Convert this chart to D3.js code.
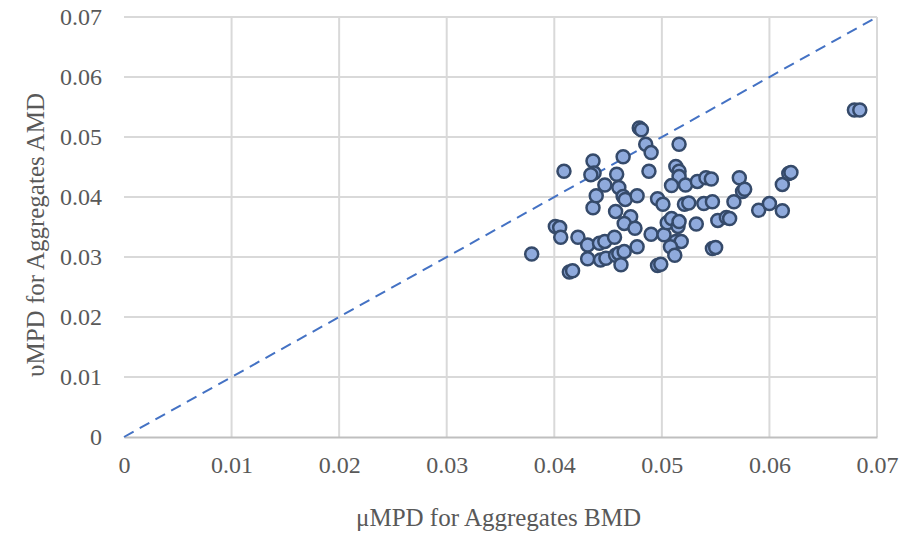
<!DOCTYPE html>
<html>
<head>
<meta charset="utf-8">
<script src="https://cdn.jsdelivr.net/npm/d3@7"></script>
<style>
  html, body { margin: 0; padding: 0; background: #fff; }
  svg { display: block; }
</style>
</head>
<body>
<svg id="chart" width="904" height="533"></svg>
<script>
// Data: μMPD (BMD) on x, υMPD (AMD) on y
const xValues = [
  0.0379, 0.0409, 0.0401, 0.0405, 0.0406, 0.0414, 0.0417, 0.0422, 0.0431, 0.0431,
  0.0442, 0.0447, 0.0443, 0.0448, 0.0456, 0.0457, 0.0436, 0.0437, 0.0434, 0.0436,
  0.0439, 0.0447, 0.0458, 0.0460, 0.0464, 0.0464, 0.0466, 0.0477, 0.0457, 0.0471,
  0.0465, 0.0475, 0.0477, 0.0460, 0.0465, 0.0462, 0.0479, 0.0481, 0.0485, 0.0490,
  0.0488, 0.0496, 0.0501, 0.0490, 0.0502, 0.0496, 0.0499, 0.0505, 0.0509, 0.0515,
  0.0516, 0.0513, 0.0518, 0.0508, 0.0512, 0.0516, 0.0513, 0.0516, 0.0516, 0.0509,
  0.0522, 0.0521, 0.0525, 0.0532, 0.0533, 0.0541, 0.0546, 0.0539, 0.0547, 0.0547,
  0.0550, 0.0552, 0.0560, 0.0563, 0.0567, 0.0572, 0.0575, 0.0577, 0.0590, 0.0600,
  0.0612, 0.0612, 0.0618, 0.0620, 0.0679, 0.0684
];
const yValues = [
  0.0305, 0.0443, 0.0351, 0.0349, 0.0333, 0.0275, 0.0277, 0.0333, 0.0320, 0.0297,
  0.0323, 0.0326, 0.0295, 0.0298, 0.0333, 0.0303, 0.0460, 0.0440, 0.0437, 0.0382,
  0.0402, 0.0420, 0.0438, 0.0416, 0.0467, 0.0401, 0.0396, 0.0402, 0.0376, 0.0367,
  0.0356, 0.0348, 0.0317, 0.0306, 0.0309, 0.0287, 0.0515, 0.0512, 0.0488, 0.0474,
  0.0443, 0.0397, 0.0388, 0.0338, 0.0337, 0.0286, 0.0288, 0.0357, 0.0364, 0.0351,
  0.0359, 0.0326, 0.0326, 0.0317, 0.0303, 0.0488, 0.0451, 0.0443, 0.0434, 0.0419,
  0.0420, 0.0388, 0.0390, 0.0355, 0.0426, 0.0432, 0.0430, 0.0389, 0.0392, 0.0314,
  0.0316, 0.0361, 0.0366, 0.0364, 0.0392, 0.0432, 0.0409, 0.0413, 0.0378, 0.0389,
  0.0377, 0.0421, 0.0439, 0.0441, 0.0545, 0.0545
];
const tickValues = [0, 0.01, 0.02, 0.03, 0.04, 0.05, 0.06, 0.07];
const tickLabels = ["0", "0.01", "0.02", "0.03", "0.04", "0.05", "0.06", "0.07"];
const xTitle = "μMPD for Aggregates BMD";
const yTitle = "υMPD for Aggregates AMD";
const equalityLine = [[0, 0], [0.07, 0.07]];

(function () {
const points = xValues.map((v, i) => ({ x: v, y: yValues[i] }));

const svg = d3.select("#chart");
const mL = 124, mR = 877, mT = 17, mB = 437;
const x = d3.scaleLinear().domain([0, 0.07]).range([mL, mR]);
const y = d3.scaleLinear().domain([0, 0.07]).range([mB, mT]);
const FONT = "Liberation Serif";
const TXT = "#595959";

// Gridlines
const grid = svg.append("g");
grid.selectAll("line.v").data(tickValues.slice(1)).join("line").attr("class", "v")
  .attr("x1", d => x(d)).attr("x2", d => x(d))
  .attr("y1", mT).attr("y2", mB)
  .attr("stroke", "#d9d9d9").attr("stroke-width", 2);
grid.selectAll("line.h").data(tickValues.slice(1)).join("line").attr("class", "h")
  .attr("x1", mL).attr("x2", mR)
  .attr("y1", d => y(d)).attr("y2", d => y(d))
  .attr("stroke", "#d9d9d9").attr("stroke-width", 2);

// Axes
const xAxis = d3.axisBottom(x).tickValues(tickValues).tickFormat((d, i) => tickLabels[i]).tickSize(0).tickPadding(19);
const yAxis = d3.axisLeft(y).tickValues(tickValues).tickFormat((d, i) => tickLabels[i]).tickSize(0).tickPadding(20);

const gx = svg.append("g").attr("transform", `translate(0,${mB})`).call(xAxis)
  .attr("font-family", FONT).attr("font-size", 24);
gx.select(".domain").attr("stroke", "#bfbfbf").attr("stroke-width", 2);
gx.selectAll("text").attr("font-family", FONT).attr("fill", TXT);

const gy = svg.append("g").attr("transform", `translate(${mL},0)`).call(yAxis)
  .attr("font-family", FONT).attr("font-size", 24);
gy.select(".domain").remove();
gy.selectAll("text").attr("x", -22).attr("font-family", FONT).attr("fill", TXT);

// Equality line
svg.append("path")
  .datum(equalityLine)
  .attr("d", d3.line().x(d => x(d[0])).y(d => y(d[1])))
  .attr("fill", "none").attr("stroke", "#4472c4").attr("stroke-width", 2)
  .attr("stroke-dasharray", "11,7");

// Points
svg.append("g").selectAll("circle").data(points).join("circle")
  .attr("cx", d => x(d.x)).attr("cy", d => y(d.y)).attr("r", 6.5)
  .attr("fill", "#8faadc").attr("stroke", "#354a6a").attr("stroke-width", 2.5);

// Titles
svg.append("text").attr("x", (mL + mR) / 2 - 2).attr("y", 526)
  .attr("text-anchor", "middle").attr("font-size", 25).attr("font-family", FONT).attr("fill", TXT)
  .text(xTitle);
svg.append("text").attr("transform", `translate(38,${(mT + mB) / 2 + 8}) rotate(-90)`)
  .attr("text-anchor", "middle").attr("dominant-baseline", "middle").attr("font-size", 25)
  .attr("font-family", FONT).attr("fill", TXT)
  .text(yTitle);
})();
</script>
</body>
</html>
